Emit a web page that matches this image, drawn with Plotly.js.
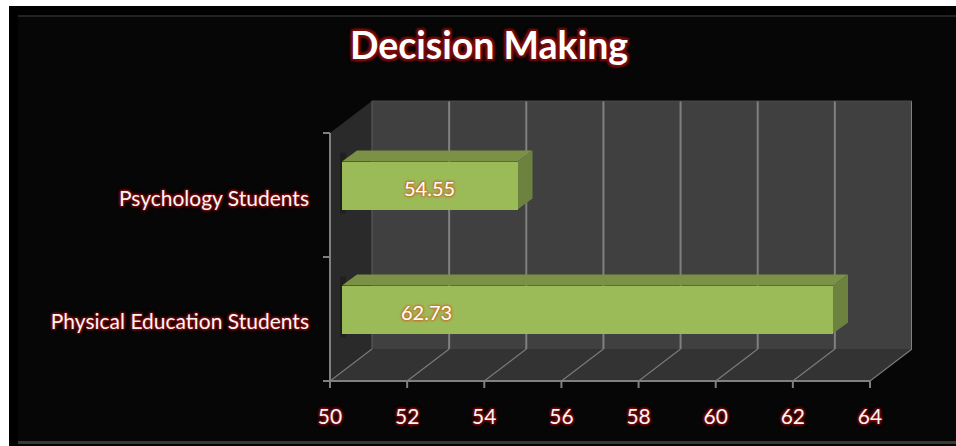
<!DOCTYPE html>
<html><head><meta charset="utf-8">
<script src="https://cdn.plot.ly/plotly-3.0.1.min.js"></script>
<style>html,body{margin:0;padding:0;background:#fff;overflow:hidden}</style></head>
<body><div id="chart" style="width:956px;height:446px"></div>
<script>
var categories = ["Physical Education Students", "Psychology Students"];
var values = [62.73, 54.55];
var valueLabels = ["62.73", "54.55"];
var labelPositions = [52.2, 52.27];
var xTicks = [50, 52, 54, 56, 58, 60, 62, 64];

var W = 956, H = 446;
var pxPerUnit = 540 / 14, pxPerCat = 124;
function px(p){ return p / pxPerUnit; }
function cy(p){ return p / pxPerCat; }
var wallDx = px(42), wallDy = cy(32), tickLen = 7;
var barDx = px(15), barDy = cy(11), barInset = px(12);
var maxX = 50 + 582 / pxPerUnit, maxY = 281 / pxPerCat;
var barCenterInset = cy(71.5), barHalf = cy(24);

var traces = [];
function poly(xs, ys, color){
  traces.push({type:"scatter", mode:"lines", x:xs, y:ys, fill:"toself", fillcolor:color, cliponaxis:false,
    line:{width:0, color:color}, hoverinfo:"skip", showlegend:false, xaxis:"x", yaxis:"y"});
}
function seg(xs, ys, color, w){
  traces.push({type:"scatter", mode:"lines", x:xs, y:ys, cliponaxis:false, line:{width:w, color:color},
    hoverinfo:"skip", showlegend:false, xaxis:"x", yaxis:"y"});
}
// walls
poly([50+wallDx, 64+wallDx, 64+wallDx, 50+wallDx], [wallDy, wallDy, 2+wallDy, 2+wallDy], "#404040");
poly([50, 64, 64+wallDx, 50+wallDx], [0, 0, wallDy, wallDy], "#333333");
poly([50, 50+wallDx, 50+wallDx, 50], [0, wallDy, 2+wallDy, 2], "#2a2a2a");
// grid
xTicks.forEach(function(t){
  if (t > 50) seg([t+wallDx, t+wallDx], [wallDy, 2+wallDy], "#808080", 2);
  seg([t, t+wallDx], [0, wallDy], "#7a7a7a", 1.2);
});
seg([50+wallDx, 50+wallDx], [wallDy, 2+wallDy], "#5c5c5c", 1);
seg([50+wallDx, 64+wallDx], [2+wallDy, 2+wallDy], "#4a4a4a", 1);
// axis lines and tick marks
seg([50, 64], [0, 0], "#808080", 2);
seg([50, 50], [0, 2], "#808080", 2);
xTicks.forEach(function(t){ seg([t, t], [0, cy(-tickLen)], "#808080", 2); });
[0, 1, 2].forEach(function(c){ seg([50, 50-px(tickLen)], [c, c], "#808080", 2); });
// soft shadow on the side wall, bar top and side faces
values.forEach(function(v, i){
  var c = i + barCenterInset, yb = c - barHalf, yt = c + barHalf;
  var x0 = 50 + barInset, x1 = v + barInset;
  poly([x0-px(2), x0+px(4), x0+px(4), x0-px(2)], [yb-cy(4), yb-cy(4), yt+barDy-cy(2), yt+barDy-cy(2)], "#202020");
  poly([x0, x1, x1+barDx, x0+barDx], [yt, yt, yt+barDy, yt+barDy], "#7b9145");
  poly([x1, x1+barDx, x1+barDx, x1], [yt, yt+barDy, yb+barDy, yb], "#6e8240");
});
// bar fronts
traces.push({type:"bar", orientation:"h", y:categories, x:values.map(function(v){return v-50;}), base:50,
  marker:{color:"#9bbb59", line:{width:0}}, width:48/124, hoverinfo:"skip", showlegend:false,
  xaxis:"x2", yaxis:"y2"});
// bevel highlights on the bar fronts
values.forEach(function(v, i){
  var h = 24/124, t = 1/124;
  traces.push({type:"scatter", mode:"lines", x:[50, v], y:[i+h-t, i+h-t], line:{width:2, color:"#abcb65"},
    hoverinfo:"skip", showlegend:false, xaxis:"x2", yaxis:"y2"});
  traces.push({type:"scatter", mode:"lines", x:[50, v], y:[i-h+1.5*t, i-h+1.5*t], line:{width:3, color:"#809a47"},
    hoverinfo:"skip", showlegend:false, xaxis:"x2", yaxis:"y2"});
});

var glow = "1px 1px 2px #7a0c0c, -1px -1px 2px #7a0c0c, 1px -1px 2px #7a0c0c, -1px 1px 2px #7a0c0c, 0 0 4px #7a0c0c";
var tickFont = {family:"Lato, sans-serif", size:21, color:"#f6f6f6", shadow:glow};
var layout = {
  width:W, height:H, margin:{l:0,r:0,t:0,b:0}, paper_bgcolor:"#060606", plot_bgcolor:"rgba(0,0,0,0)",
  showlegend:false, bargap:0,
  title:{text:"<b>Decision Making</b>", x:489/W, xanchor:"center", y:1-46/H, yanchor:"middle",
    font:{family:"Lato, sans-serif", size:37.5, color:"#ffffff",
      shadow:"2px 2px 2px #7a0c0c, -2px -2px 2px #7a0c0c, 2px -2px 2px #7a0c0c, -2px 2px 2px #7a0c0c, 0 0 5px #7a0c0c"}},
  xaxis:{domain:[(330-tickLen)/W, 912/W], range:[50-px(tickLen), maxX], tickvals:xTicks, ticks:"", showgrid:false, zeroline:false, showline:false,
    tickfont:tickFont, ticklabelstandoff:14, fixedrange:true},
  yaxis:{domain:[1-(381+tickLen)/H, 1-100/H], range:[cy(-tickLen), maxY], showgrid:false, zeroline:false, showline:false,
    tickvals:[0.48, 1.47], ticktext:categories, tickfont:tickFont, ticklabelstandoff:13, fixedrange:true},
  xaxis2:{domain:[342/W, 882/W], range:[50, 64], anchor:"y2", visible:false, fixedrange:true},
  yaxis2:{domain:[1-371.5/H, 1-123.5/H], range:[-0.5, 1.5], type:"category", categoryorder:"array", categoryarray:categories,
    anchor:"x2", visible:false, fixedrange:true},
  annotations: categories.map(function(c, i){
    return {xref:"x2", yref:"y2", x:labelPositions[i], y:c, yshift:-2, text:valueLabels[i], showarrow:false,
      font:{family:"Lato, sans-serif", size:20, color:"#ffffff", shadow:"1px 1px 2px #c07a30, -1px -1px 2px #c07a30, 1px -1px 2px #c07a30, -1px 1px 2px #c07a30"}};
  }),
  shapes:[
    {type:"rect", xref:"paper", yref:"paper", x0:0, x1:1, y0:1-6/H, y1:1, line:{width:0}, fillcolor:"#ffffff", layer:"below"},
    {type:"rect", xref:"paper", yref:"paper", x0:0, x1:9/W, y0:0, y1:1, line:{width:0}, fillcolor:"#ffffff", layer:"below"},
    {type:"rect", xref:"paper", yref:"paper", x0:9/W, x1:18/W, y0:0, y1:1-6/H, line:{width:0}, fillcolor:"#000000", layer:"below"},
    {type:"rect", xref:"paper", yref:"paper", x0:9/W, x1:1, y0:1-15/H, y1:1-6/H, line:{width:0}, fillcolor:"#000000", layer:"below"},
    {type:"rect", xref:"paper", yref:"paper", x0:9/W, x1:1, y0:0, y1:2/H, line:{width:0}, fillcolor:"#000000", layer:"below"},
    {type:"rect", xref:"paper", yref:"paper", x0:18/W, x1:1, y0:1-17/H, y1:1-15/H, line:{width:0}, fillcolor:"#222222", layer:"below"},
    {type:"rect", xref:"paper", yref:"paper", x0:18/W, x1:1, y0:2/H, y1:5/H, line:{width:0}, fillcolor:"#383838", layer:"below"}
  ]
};
Plotly.newPlot("chart", traces, layout, {displayModeBar:false, staticPlot:true});
</script></body></html>
